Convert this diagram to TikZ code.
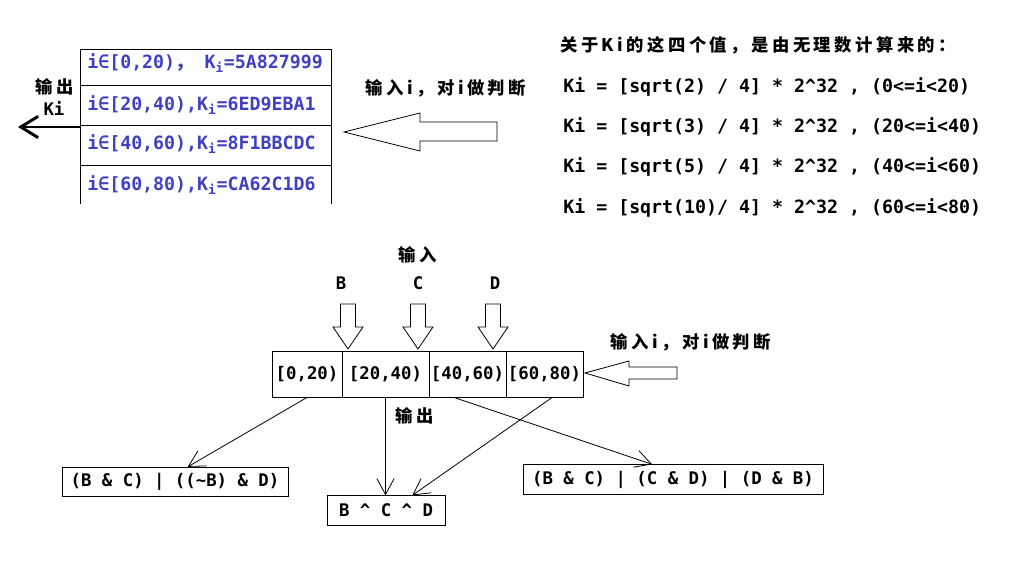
\documentclass[tikz,border=0pt]{standalone}
\usepackage{fontspec}
\setmainfont{DejaVu Sans Mono}
\newfontfamily\cjk{Noto Sans CJK SC}[LetterSpace=20]
\usetikzlibrary{arrows.meta,positioning}
\definecolor{kiblue}{RGB}{64,64,196}

\begin{document}
\begin{tikzpicture}[x=0.75pt,y=-0.75pt,
    every node/.style={font=\fontsize{13}{15}\selectfont\bfseries,inner sep=0pt},
    cn/.style={font=\fontsize{13}{15}\selectfont\bfseries\cjk},
    kval/.style={anchor=west,text=kiblue,font=\fontsize{13.7}{16}\selectfont\bfseries},
    formula/.style={anchor=west,font=\fontsize{13.7}{16}\selectfont\bfseries},
    cell/.style={draw,line width=0.7pt,minimum height=34.5pt},
    result/.style={draw,line width=0.7pt,minimum height=22pt},
    hollow/.style={draw,line width=0.6pt,fill=white},
    tableline/.style={line width=0.7pt},
    conn/.style={line width=0.6pt,-{Straight Barb[length=12pt,width=13pt]}}]

    \fill[white] (0,0) rectangle (1014,566);
    \useasboundingbox (0,0) rectangle (1014,566);

    % round constants table
    \draw[tableline] (80,204) -- (80,49) -- (331,49) -- (331,204);
    \foreach \y in {85,125,165}
      \draw[tableline] (80,\y) -- (331,\y);
    \node[kval] (k1) at (87,63) {i∈[0,20){\cjk ，}\ K\textsubscript{i}=5A827999};
    \node[kval] (k2) at (87,105) {i∈[20,40),K\textsubscript{i}=6ED9EBA1};
    \node[kval] (k3) at (87,144) {i∈[40,60),K\textsubscript{i}=8F1BBCDC};
    \node[kval] (k4) at (87,185) {i∈[60,80),K\textsubscript{i}=CA62C1D6};

    \node[cn] (out1) at (55,87) {输出};
    \node (ki) at (54,108) {Ki};
    \coordinate (tbl) at (80,127);
    \coordinate (outtip) at (18,127);
    \draw[line width=2.2pt,-{Straight Barb[length=13pt,width=16pt]}] (tbl) -- (outtip);

    \node[cn] (judge1) at (446,88) {输入i，对i做判断};
    \draw[hollow] (344,132) -- (420,113) -- (420,122) -- (497,122) -- (497,141) -- (420,141) -- (420,151) -- cycle;

    % where the constants come from
    \node[cn,anchor=west] (about) at (560,45) {关于Ki的这四个值，是由无理数计算来的：};
    \node[formula] (f1) at (563,87) {Ki = [sqrt(2) / 4] * 2\textasciicircum 32 , (0<=i<20)};
    \node[formula] (f2) at (563,127) {Ki = [sqrt(3) / 4] * 2\textasciicircum 32 , (20<=i<40)};
    \node[formula] (f3) at (563,167) {Ki = [sqrt(5) / 4] * 2\textasciicircum 32 , (40<=i<60)};
    \node[formula] (f4) at (563,208) {Ki = [sqrt(10)/ 4] * 2\textasciicircum 32 , (60<=i<80)};

    % nonlinear functions
    \node[cn] (in) at (418,255) {输入};
    \foreach \lx/\ax/\l in {341/348/B,418/418/C,495/493/D}{
      \node (\l) at (\lx,283) {\l};
      \draw[hollow] (\ax-7.5,304) -- (\ax+7.5,304) -- (\ax+7.5,327) -- (\ax+15,327)
        -- (\ax,349) -- (\ax-15,327) -- (\ax-7.5,327) -- cycle;
    }

    \node[cell,minimum width=52.5pt] (c1) at (307,374) {[0,20)};
    \node[cell,minimum width=65.25pt] (c2) at (385.5,374) {[20,40)};
    \node[cell,minimum width=57.75pt] (c3) at (467.5,374) {[40,60)};
    \node[cell,minimum width=57.75pt] (c4) at (544.5,374) {[60,80)};

    \draw[hollow] (585,373) -- (629,361) -- (629,367) -- (677,367) -- (677,379) -- (629,379) -- (629,386) -- cycle;
    \node[cn] (judge2) at (691,342) {输入i，对i做判断};
    \node[cn] (out2) at (415,416) {输出};

    \node[result,minimum width=169.5pt] (r1) at (175,482) {(B \& C) | ((\textasciitilde B) \& D)};
    \node[result,minimum width=88.5pt] (r2) at (386,510.5) {B \textasciicircum{} C \textasciicircum{} D};
    \node[result,minimum width=225pt] (r3) at (673,479.5) {(B \& C) | (C \& D) | (D \& B)};

    \draw[conn] (c1.south) -- (r1.50);
    \draw[conn] (c2.south) -- (c2.south |- r2.north);
    \draw[conn] (c4.-72) -- (r2.30);
    \draw[conn] (c3.-120) -- (r3.144);
\end{tikzpicture}
\end{document}
